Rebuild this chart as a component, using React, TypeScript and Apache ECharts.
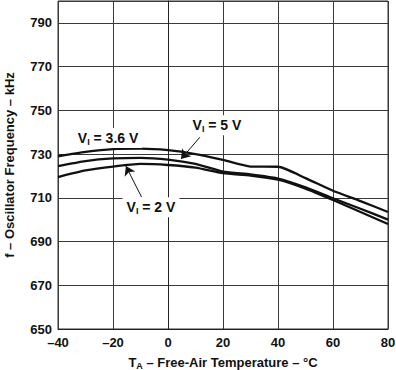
import React, { useEffect, useRef } from 'react';
import * as echarts from 'echarts';

const temps = [-40, -30, -20, -10, 0, 10, 20, 30, 40, 50, 60, 70, 80];
const v36 = [729, 731, 732.3, 732.5, 731.8, 730, 727.3, 724.3, 724.2, 719, 713.2, 708.5, 703.5];
const v5 = [724.5, 726.8, 728, 728.3, 727.5, 725.5, 722, 720.7, 718.8, 714.8, 709.8, 705, 700];
const v2 = [719.5, 722.5, 724.3, 725.5, 725, 723.8, 721.3, 720.2, 718.3, 714.2, 709, 703.5, 698];

const labelTexts = ['3.6 V', '5 V', '2 V'];
const labelAt: [number, number][] = [[-21.8, 737.3], [17.8, 743.2], [-6.2, 705.7]];
const arrowFrom: [number, number][] = [[11.6, 737.7], [-9.6, 710.3]];
const arrowTo: [number, number][] = [[4.7, 727.7], [-15.3, 724.5]];

const FONT = '"Liberation Sans", Arial, sans-serif';

export default function App() {
  const ref = useRef<HTMLDivElement>(null);
  useEffect(() => {
    if (!ref.current) return;
    const chart = echarts.init(ref.current, undefined, { renderer: 'svg' });
    const mk = (vals: number[]) => temps.map((t, i) => [t, vals[i]]);
    const lineSeries = (name: string, vals: number[], extra: any = {}) => ({
      name,
      type: 'line',
      data: mk(vals),
      showSymbol: false,
      smooth: 0.2,
      lineStyle: { color: '#111', width: 2.3 },
      itemStyle: { color: '#111' },
      z: 3,
      ...extra,
    });
    chart.setOption({
      animation: false,
      grid: {
        left: 58, right: 8, top: 1, bottom: 41,
        outerBoundsMode: 'none', containLabel: false,
        show: true, borderColor: '#333', borderWidth: 1,
      },
      xAxis: {
        type: 'value',
        min: -40,
        max: 80,
        interval: 20,
        axisLine: { show: true, lineStyle: { color: '#222' } },
        axisTick: { show: false },
        splitLine: { show: true, lineStyle: { color: '#3a3a3a', width: 1 } },
        axisLabel: {
          color: '#111', fontFamily: FONT, fontWeight: 'bold', fontSize: 13, margin: 7,
          formatter: (v: number) => (v < 0 ? '\u2013' + Math.abs(v) : String(v)),
        },
        name: '{a|T}{s|A}{a| \u2013 Free-Air Temperature \u2013 \u00B0C}',
        nameLocation: 'middle',
        nameGap: 25,
        nameTextStyle: {
          rich: {
            a: { fontFamily: FONT, fontWeight: 'bold', fontSize: 13, color: '#111' },
            s: { fontFamily: FONT, fontWeight: 'bold', fontSize: 9, color: '#111', padding: [7, 0, 0, 0] },
          },
        },
      },
      yAxis: {
        type: 'value',
        min: 650,
        max: 800,
        interval: 20,
        axisLine: { show: true, lineStyle: { color: '#222' } },
        axisTick: { show: false },
        splitLine: { show: true, lineStyle: { color: '#3a3a3a', width: 1 } },
        axisLabel: {
          color: '#111', fontFamily: FONT, fontWeight: 'bold', fontSize: 13, margin: 6,
          formatter: (v: number) => (v === 800 ? '' : String(v)),
        },
        name: 'f \u2013 Oscillator Frequency \u2013 kHz',
        nameLocation: 'middle',
        nameGap: 42,
        nameTextStyle: { fontFamily: FONT, fontWeight: 'bold', fontSize: 13, color: '#111' },
      },
      series: [
        lineSeries('VI = 3.6 V', v36, {
          markLine: {
            silent: true,
            symbol: ['none', 'arrow'],
            symbolSize: 9,
            label: { show: false },
            lineStyle: { color: '#111', width: 1, type: 'solid' },
            data: arrowFrom.map((f, i) => [{ coord: f }, { coord: arrowTo[i] }]),
          },
        }),
        lineSeries('VI = 5 V', v5),
        lineSeries('VI = 2 V', v2),
      ],
    });
    const graphics = labelTexts.map((t, i) => {
      const p = chart.convertToPixel({ gridIndex: 0 }, labelAt[i]) as number[];
      return {
        type: 'text',
        x: p[0],
        y: p[1],
        z: 10,
        style: {
          text: '{v|V}{s|I}{v| = ' + t + '}',
          align: 'center',
          verticalAlign: 'middle',
          backgroundColor: '#fff',
          padding: [2, 4, 2, 4],
          rich: {
            v: { fontFamily: FONT, fontWeight: 'bold', fontSize: 14, fill: '#111' },
            s: { fontFamily: FONT, fontWeight: 'bold', fontSize: 9, fill: '#111', padding: [7, 0, 0, 0] },
          },
        },
      };
    });
    chart.setOption({ graphic: graphics });
    return () => chart.dispose();
  }, []);
  return (
    <div
      ref={ref}
      style={{ position: 'fixed', left: 0, top: 0, width: 396, height: 370, background: '#fff' }}
    />
  );
}
